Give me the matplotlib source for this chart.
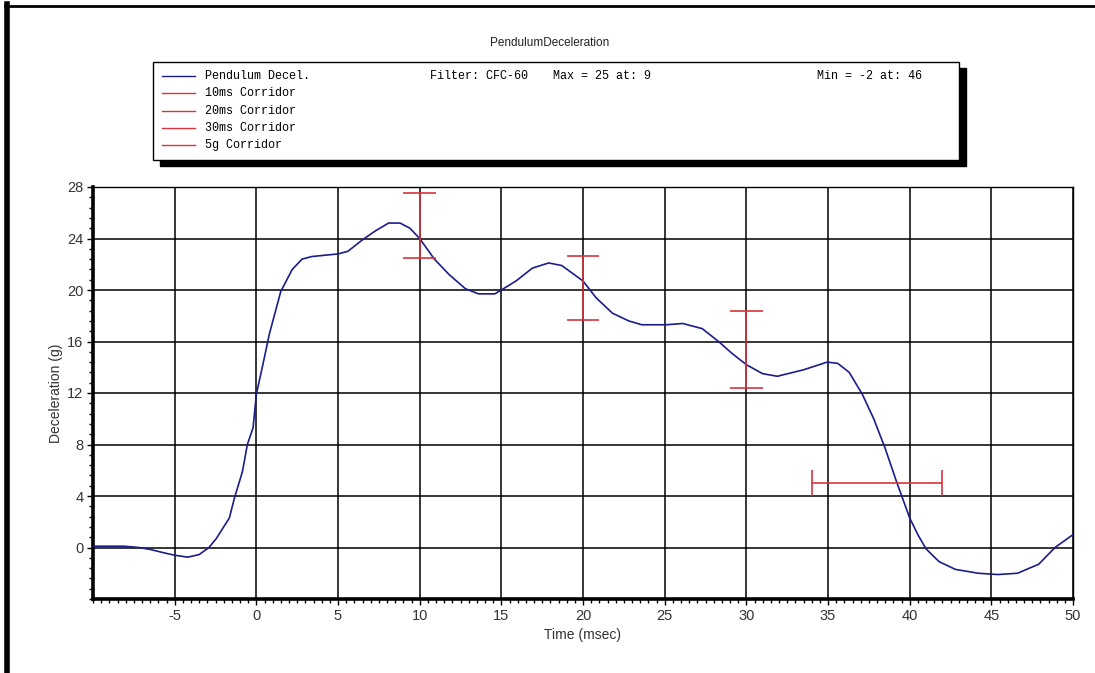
import matplotlib
matplotlib.use("Agg")
import matplotlib.pyplot as plt
from matplotlib.lines import Line2D
from matplotlib.patches import Rectangle
from matplotlib.ticker import MultipleLocator

plt.rcParams["axes.unicode_minus"] = False

# pendulum deceleration trace
time_ms = [-10, -8.1, -7.2, -6.5, -5.7, -5, -4.2, -3.5, -2.9, -2.45, -1.65, -1.35,
           -0.85, -0.55, -0.2, 0, 0.4, 0.8, 1.5, 2.2, 2.8, 3.4, 5, 5.6, 6.5, 7.3,
           8.1, 8.8, 9.4, 10, 10.9, 11.8, 12.8, 13.6, 14.6, 15, 15.9, 16.9, 17.9,
           18.7, 20, 20.8, 21.8, 22.8, 23.6, 25.1, 26.1, 27.3, 28.3, 29.1, 30, 31,
           31.9, 33.5, 34.95, 35.6, 36.3, 37.1, 37.8, 38.5, 39.2, 40, 40.5, 41, 41.8,
           42.8, 44.2, 45.4, 46.6, 47.9, 48.9, 50]
decel_g = [0.1, 0.1, 0, -0.15, -0.4, -0.6, -0.75, -0.55, 0, 0.7, 2.3, 3.8,
           5.9, 8.0, 9.3, 11.9, 14.2, 16.6, 19.9, 21.6, 22.4, 22.6, 22.8, 23.0, 23.9, 24.6,
           25.2, 25.2, 24.8, 24.0, 22.4, 21.2, 20.1, 19.7, 19.7, 20.0, 20.7, 21.7, 22.1,
           21.9, 20.7, 19.4, 18.2, 17.6, 17.3, 17.3, 17.4, 17.0, 16.0, 15.1, 14.2, 13.5,
           13.3, 13.8, 14.4, 14.3, 13.6, 11.9, 10.0, 7.7, 5.1, 2.3, 1.0, -0.1, -1.1,
           -1.7, -2.0, -2.1, -2.0, -1.3, 0, 1.0]

# time corridors (vertical bars)
corridor_t = [10, 20, 30]
corridor_hi = [27.5, 22.65, 18.4]
corridor_lo = [22.5, 17.65, 12.4]
corridor_cap = 1.0

# 5g corridor (horizontal bar)
g5_level = 5
g5_start = 34
g5_end = 42
g5_cap = 1.0

legend_names = ["Pendulum Decel.", "10ms Corridor", "20ms Corridor",
                "30ms Corridor", "5g Corridor"]
x_ticks = [-5, 0, 5, 10, 15, 20, 25, 30, 35, 40, 45, 50]
y_ticks = [0, 4, 8, 12, 16, 20, 24, 28]

BLUE = "#1c1c8a"
RED = "#d8333c"
W, H = 1095, 673


def fx(px):
    return px / W


def fy(py):
    return 1 - py / H


fig = plt.figure(figsize=(10.95, 6.73), dpi=100)
ax = fig.add_axes([fx(93), fy(599), fx(1073) - fx(93), fy(187) - fy(599)])

ax.plot(time_ms, decel_g, color=BLUE, lw=1.2, zorder=3)

ax.vlines(corridor_t, corridor_lo, corridor_hi, color=RED, lw=1.2, zorder=4)
for t, lo, hi in zip(corridor_t, corridor_lo, corridor_hi):
    ax.hlines([lo, hi], t - corridor_cap, t + corridor_cap, color=RED, lw=1.2, zorder=4)
ax.hlines(g5_level, g5_start, g5_end, color=RED, lw=1.2, zorder=4)
ax.vlines([g5_start, g5_end], g5_level - g5_cap, g5_level + g5_cap, color=RED, lw=1.2, zorder=4)

ax.set_xlim(-10, 50)
ax.set_ylim(-4, 28)
ax.set_xticks(x_ticks)
ax.set_yticks(y_ticks)
ax.xaxis.set_minor_locator(MultipleLocator(0.5))
ax.yaxis.set_minor_locator(MultipleLocator(0.8))
ax.grid(True, which="major", color="black", lw=1.1)
ax.tick_params(which="both", direction="out", length=4, width=1, color="black",
               labelsize=10.5, labelcolor="#333333", pad=3)
ax.tick_params(which="minor", length=3)
for side in ["left", "bottom"]:
    ax.spines[side].set_linewidth(2.6)
for side in ["top", "right"]:
    ax.spines[side].set_linewidth(1.0)

ax.set_xlabel("Time (msec)", fontsize=10, color="#333333", labelpad=4,
              family="Liberation Sans")
ax.set_ylabel("Deceleration (g)", fontsize=10, color="#333333", labelpad=3,
              family="Liberation Sans")
for lab in ax.get_xticklabels() + ax.get_yticklabels():
    lab.set_family("Liberation Sans")

fig.text(fx(550), fy(43), "PendulumDeceleration", ha="center", va="center",
         fontsize=8.5, family="Liberation Sans", color="#222222")

# legend box with shadow
fig.patches.append(Rectangle((fx(160), fy(166)), fx(966) - fx(160), fy(68) - fy(166),
                             transform=fig.transFigure, facecolor="black",
                             edgecolor="black", zorder=1))
fig.patches.append(Rectangle((fx(153), fy(160)), fx(959) - fx(153), fy(62) - fy(160),
                             transform=fig.transFigure, facecolor="white",
                             edgecolor="black", lw=1.0, zorder=2))
row_y = [76, 93, 111, 128, 145]
for i, (name, ry) in enumerate(zip(legend_names, row_y)):
    c = BLUE if i == 0 else RED
    fig.lines.append(Line2D([fx(162), fx(195)], [fy(ry), fy(ry)],
                            transform=fig.transFigure, color=c, lw=1.0, zorder=3))
    fig.text(fx(205), fy(ry), name, ha="left", va="center", fontsize=8.5,
             family="Liberation Mono", color="black", zorder=3)
fig.text(fx(430), fy(76), "Filter: CFC-60", ha="left", va="center", fontsize=8.5,
         family="Liberation Mono", zorder=3)
fig.text(fx(553), fy(76), "Max = 25 at: 9", ha="left", va="center", fontsize=8.5,
         family="Liberation Mono", zorder=3)
fig.text(fx(817), fy(76), "Min = -2 at: 46", ha="left", va="center", fontsize=8.5,
         family="Liberation Mono", zorder=3)

# outer frame (left thick, top thin)
fig.lines.append(Line2D([fx(7), fx(7)], [fy(4), 0], transform=fig.transFigure,
                        color="black", lw=4))
fig.lines.append(Line2D([fx(5), 1], [fy(6), fy(6)], transform=fig.transFigure,
                        color="black", lw=2))

fig.savefig("out.png", dpi=100)
